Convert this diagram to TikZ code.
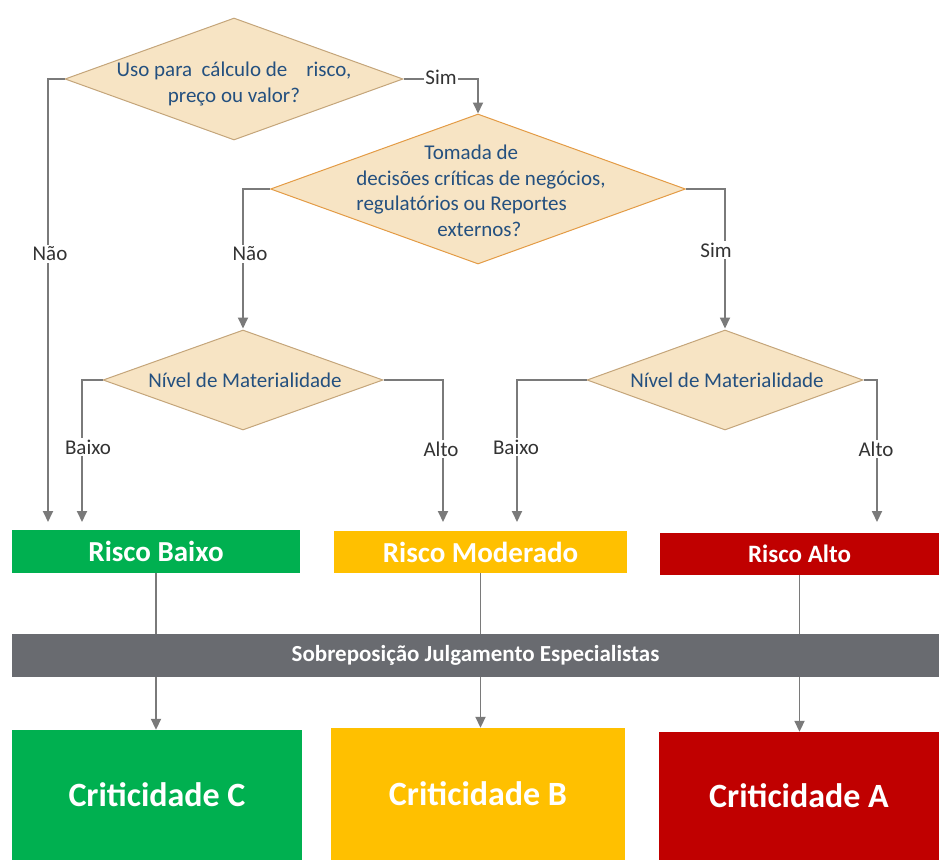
\documentclass[tikz,border=0pt]{standalone}
\usepackage{fontspec}
\setmainfont{Carlito}
\usetikzlibrary{shapes.geometric,arrows.meta}

\definecolor{qblue}{HTML}{24507F}
\definecolor{lblc}{HTML}{333333}
\definecolor{linec}{HTML}{7A7A7A}
\definecolor{diafill}{HTML}{F7E4C4}
\definecolor{diaedge}{HTML}{C4A57A}
\definecolor{diaorange}{HTML}{E39B45}
\definecolor{riskgreen}{HTML}{00B050}
\definecolor{riskyellow}{HTML}{FFC000}
\definecolor{riskred}{HTML}{C00000}
\definecolor{bargray}{HTML}{696B70}

\tikzset{
  decision/.style={diamond, draw=diaedge, fill=diafill, line width=1pt, inner sep=0pt},
  qtext/.style={text=qblue, font=\fontsize{21}{25.5}\selectfont, inner sep=0pt},
  branch/.style={fill=white, text=lblc, font=\fontsize{21}{24}\selectfont, inner sep=1.5pt},
  conn/.style={draw=linec, line width=1.8pt},
  flow/.style={conn, -{Triangle[width=10pt,length=11pt]}},
  riskbox/.style={rectangle, inner sep=0pt, text=white, font=\bfseries\fontsize{29}{32}\selectfont},
  critbox/.style={rectangle, inner sep=0pt, text=white, font=\bfseries\fontsize{34}{38}\selectfont}
}

\begin{document}
\begin{tikzpicture}[x=1pt, y=-1pt]
\useasboundingbox (0,0) rectangle (939,860);

% decision diamonds
\node[decision, minimum width=338pt, minimum height=122pt] (q1) at (234,79) {};
\node[decision, draw=diaorange, minimum width=415pt, minimum height=150pt] (q2) at (478,189) {};
\node[decision, minimum width=280pt, minimum height=100pt] (m1) at (243,380) {};
\node[decision, minimum width=276pt, minimum height=100pt] (m2) at (725,380) {};

% question texts
\node[qtext, align=center] (q1t) at (234,84) {Uso para\ \ cálculo de\ \ \ \ risco,\\preço ou valor?};
\node[qtext, align=left] (q2t) at (481,191) {\hspace*{68pt}Tomada de\\decisões críticas de negócios,\\regulatórios ou Reportes\\\hspace*{81pt}externos?};
\node[qtext] (m1t) at (245,380) {Nível de Materialidade};
\node[qtext] (m2t) at (727,380) {Nível de Materialidade};

% result boxes
\node[riskbox, fill=riskgreen, minimum width=288pt, minimum height=43pt] (rb) at (156,551.5) {Risco Baixo};
\node[riskbox, fill=riskyellow, minimum width=293pt, minimum height=42pt] (rm) at (480.5,552) {Risco Moderado};
\node[riskbox, fill=riskred, minimum width=279pt, minimum height=42pt, font=\bfseries\fontsize{25}{28}\selectfont] (ra) at (799.5,554) {Risco Alto};

\node[rectangle, fill=bargray, text=white, inner sep=0pt, minimum width=927pt, minimum height=43pt,
      font=\bfseries\fontsize{23}{26}\selectfont] (bar) at (475.5,655.5) {Sobreposição Julgamento Especialistas};

\node[critbox, fill=riskgreen, minimum width=290pt, minimum height=130pt] (cc) at (157,795) {Criticidade C};
\node[critbox, fill=riskyellow, minimum width=294pt, minimum height=132pt] (cb) at (478,794) {Criticidade B};
\node[critbox, fill=riskred, minimum width=280pt, minimum height=128pt] (ca) at (799,796) {Criticidade A};

% free ends of the branch arrows
\coordinate (e1) at (48,522);
\coordinate (e2) at (82,522);
\coordinate (e3) at (443,522);
\coordinate (e4) at (517,522);
\coordinate (e5) at (877,522);

% connectors
\draw[flow] (q1.west) -| (e1);
\draw[flow] (q1.east) -| (q2.north);
\draw[flow, shorten >=1pt] (q2.west) -| (m1.north);
\draw[flow, shorten >=1pt] (q2.east) -| (m2.north);
\draw[flow] (m1.west) -| (e2);
\draw[flow] (m1.east) -| (e3);
\draw[flow] (m2.west) -| (e4);
\draw[flow] (m2.east) -| (e5);

\draw[conn] (rb.south) -- (bar.north -| rb.south);
\draw[conn] (rm.south) -- (bar.north -| rm.south);
\draw[conn] (ra.south) -- (bar.north -| ra.south);
\draw[flow] (bar.south -| rb.south) -- (cc.north -| rb.south);
\draw[flow] (bar.south -| rm.south) -- (cb.north -| rm.south);
\draw[flow] (bar.south -| ra.south) -- (ca.north -| ra.south);

% branch labels
\node[branch] (l1) at (441,77) {Sim};
\node[branch] (l2) at (50,254) {Não};
\node[branch] (l3) at (250,254) {Não};
\node[branch] (l4) at (716,250) {Sim};
\node[branch] (l5) at (88,447) {Baixo};
\node[branch] (l6) at (441,449) {Alto};
\node[branch] (l7) at (516,447) {Baixo};
\node[branch] (l8) at (876,449) {Alto};
\end{tikzpicture}
\end{document}
